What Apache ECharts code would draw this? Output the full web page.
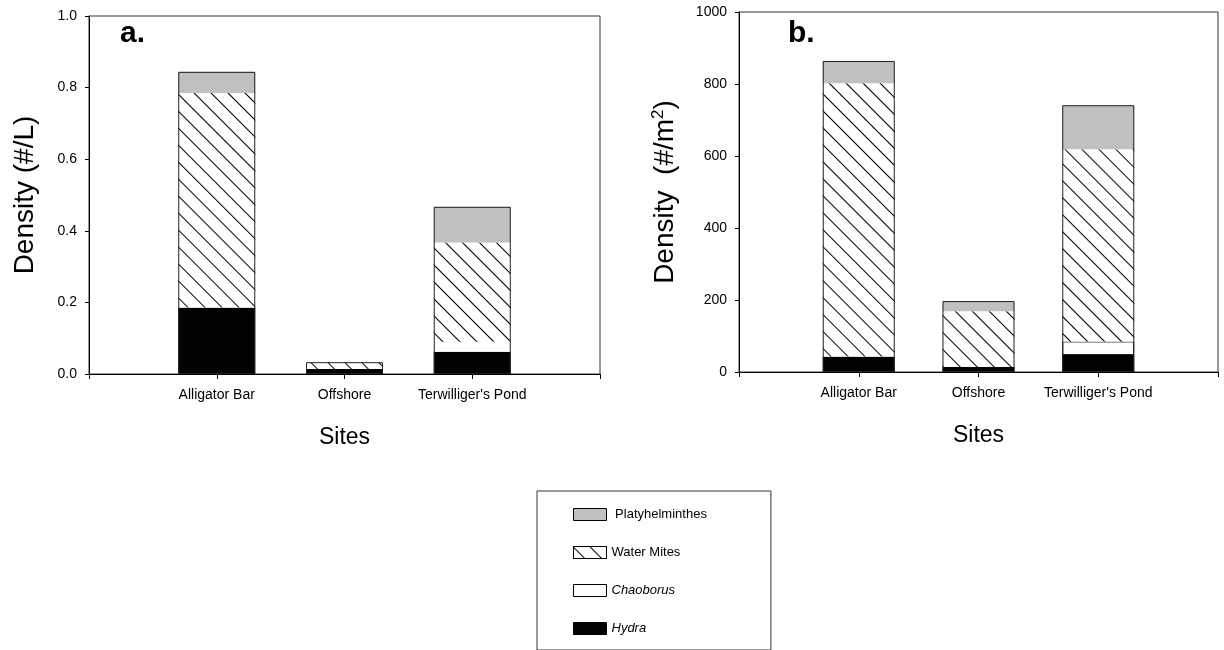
<!DOCTYPE html>
<html>
<head>
<meta charset="utf-8">
<script src="https://cdn.jsdelivr.net/npm/echarts@6/dist/echarts.min.js"></script>
<style>
html,body{margin:0;padding:0;background:#fff;}
#chart{width:1224px;height:650px;}
</style>
</head>
<body>
<div id="chart"></div>
<script>
// ---- data ----
const categories = ['Alligator Bar', 'Offshore', "Terwilliger's Pond"];
const seriesNames = ['Platyhelminthes', 'Water Mites', 'Chaoborus', 'Hydra'];
// panel a: density (#/L)
const hydraA = [0.186, 0.014, 0.062];
const chaoborusA = [0, 0, 0.028];
const mitesA = [0.599, 0.019, 0.277];
const platyA = [0.059, 0, 0.100];
// panel b: density (#/m2)
const hydraB = [43, 14, 47];
const chaoborusB = [0, 0, 38];
const mitesB = [759, 155, 534];
const platyB = [62, 28, 122];
const yTicksA = [0, 0.2, 0.4, 0.6, 0.8, 1.0];
const yTicksB = [0, 200, 400, 600, 800, 1000];

// ---- build ----
const FONT = '"Liberation Sans", Arial, sans-serif';
const axisCats = [''].concat(categories, ['']);
const pad = arr => [null].concat(arr, [null]);
const hatch = {
  symbol: 'rect', symbolSize: 1, dashArrayX: [1, 0], dashArrayY: [1, 11],
  rotation: Math.PI / 4, color: '#000', backgroundColor: '#fff'
};

function panelSeries(idx, hydra, chaob, mites, platy, barW, chaobBorder) {
  const common = { type: 'bar', xAxisIndex: idx, yAxisIndex: idx, stack: 's' + idx, barWidth: barW, barGap: '-100%', silent: true };
  const totals = categories.map((c, i) => hydra[i] + chaob[i] + mites[i] + platy[i]);
  return [
    Object.assign({}, common, { name: 'Hydra', data: pad(hydra), itemStyle: { color: '#000' } }),
    Object.assign({}, common, { name: 'Chaoborus', data: pad(chaob.map(v => ({ value: v, itemStyle: { borderWidth: (chaobBorder && v > 0) ? 1 : 0 } }))),
      itemStyle: { color: '#fff', borderColor: '#111' } }),
    Object.assign({}, common, { name: 'Water Mites', data: pad(mites), itemStyle: { color: '#fff', decal: hatch } }),
    Object.assign({}, common, { name: 'Platyhelminthes', data: pad(platy), itemStyle: { color: '#c0c0c0' } }),
    { type: 'bar', name: 'outline', xAxisIndex: idx, yAxisIndex: idx, barWidth: barW, barGap: '-100%', silent: true, z: 5,
      data: pad(totals), itemStyle: { color: 'rgba(0,0,0,0)', borderColor: '#222', borderWidth: 1 } }
  ];
}

function xAxisDef(idx) {
  return {
    type: 'category', gridIndex: idx, data: axisCats, boundaryGap: false,
    name: 'Sites', nameLocation: 'middle', nameGap: 52,
    nameTextStyle: { fontFamily: FONT, fontSize: 23, color: '#000' },
    axisLine: { lineStyle: { color: '#000', width: 1 } },
    axisTick: { show: true, interval: 0, length: 5, lineStyle: { color: '#000' } },
    axisLabel: { interval: 0, margin: 14, fontFamily: FONT, fontSize: 14, color: '#000' },
    splitLine: { show: false }
  };
}

const option = {
  animation: false,
  backgroundColor: '#fff',
  title: [
    { text: 'a.', left: 115, top: 14, textStyle: { fontFamily: FONT, fontSize: 30, fontWeight: 'bold', color: '#000' } },
    { text: 'b.', left: 783, top: 14, textStyle: { fontFamily: FONT, fontSize: 30, fontWeight: 'bold', color: '#000' } }
  ],
  grid: [
    { left: 89, top: 16, right: 624, bottom: 276, show: true, borderColor: '#333', borderWidth: 1 },
    { left: 739, top: 12, right: 6, bottom: 278, show: true, borderColor: '#333', borderWidth: 1 }
  ],
  xAxis: [xAxisDef(0), xAxisDef(1)],
  yAxis: [
    {
      type: 'value', gridIndex: 0, min: yTicksA[0], max: yTicksA[yTicksA.length - 1], interval: 0.2,
      name: 'Density (#/L)', nameLocation: 'middle', nameRotate: 90, nameGap: 50,
      nameTextStyle: { fontFamily: FONT, fontSize: 28, color: '#000' },
      axisLine: { show: true, lineStyle: { color: '#000' } },
      axisTick: { show: true, length: 4, lineStyle: { color: '#000' } },
      axisLabel: { margin: 12, fontFamily: FONT, fontSize: 14, color: '#000', formatter: v => v.toFixed(1) },
      splitLine: { show: false }
    },
    {
      type: 'value', gridIndex: 1, min: yTicksB[0], max: yTicksB[yTicksB.length - 1], interval: 200,
      name: '{t|Density  (#/m}{s|2}{t|)}', nameLocation: 'middle', nameRotate: 90, nameGap: 58,
      nameTextStyle: { fontFamily: FONT, fontSize: 28, color: '#000',
        rich: { t: { fontFamily: FONT, fontSize: 28, color: '#000' }, s: { fontFamily: FONT, fontSize: 17, color: '#000', verticalAlign: 'top', padding: [0, 0, 14, 0] } } },
      axisLine: { show: true, lineStyle: { color: '#000' } },
      axisTick: { show: true, length: 4, lineStyle: { color: '#000' } },
      axisLabel: { margin: 12, fontFamily: FONT, fontSize: 14, color: '#000', formatter: v => String(v) },
      splitLine: { show: false }
    }
  ],
  legend: {
    data: seriesNames, orient: 'vertical', left: 537, top: 491,
    padding: [17, 64, 15, 36], itemWidth: 33, itemHeight: 12, itemGap: 25,
    borderColor: '#333', borderWidth: 1, icon: 'rect',
    selectedMode: false,
    itemStyle: { borderColor: '#000', borderWidth: 1 },
    textStyle: { fontFamily: FONT, fontSize: 13, color: '#000', rich: { i: { fontFamily: FONT, fontSize: 13, fontStyle: 'italic', color: '#000' } } },
    formatter: n => (n === 'Chaoborus' || n === 'Hydra') ? '{i|' + n + '}' : (n === 'Platyhelminthes' ? ' ' + n : n)
  },
  series: [].concat(
    panelSeries(0, hydraA, chaoborusA, mitesA, platyA, 77, false),
    panelSeries(1, hydraB, chaoborusB, mitesB, platyB, 72, true)
  )
};

const chart = echarts.init(document.getElementById('chart'), null, { renderer: 'canvas' });
chart.setOption(option);
</script>
</body>
</html>
